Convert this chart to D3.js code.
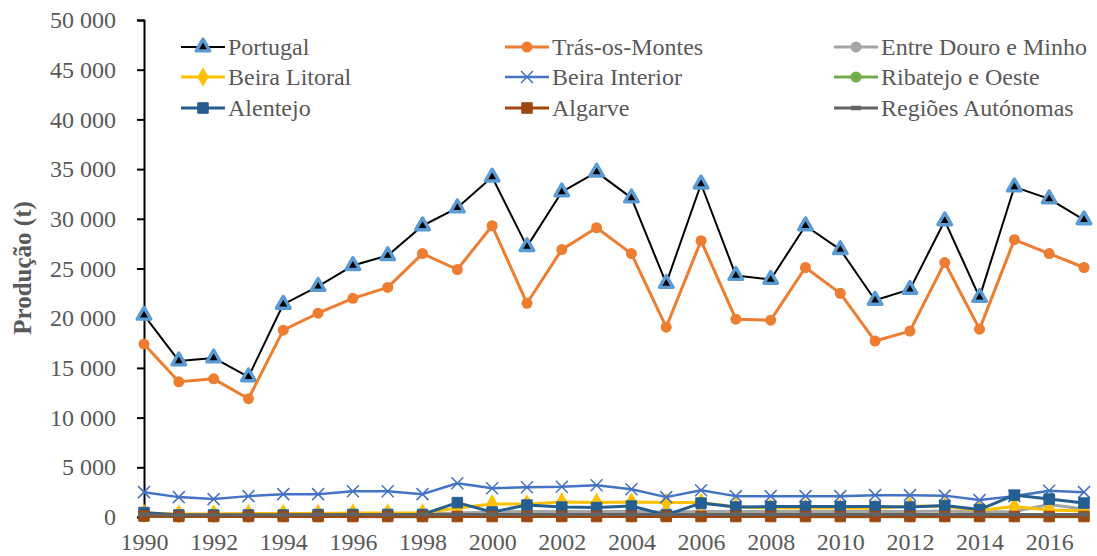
<!DOCTYPE html>
<html>
<head>
<meta charset="utf-8">
<script src="https://cdn.jsdelivr.net/npm/d3@7"></script>
<style>
  body { margin: 0; background: #fff; }
  svg { display: block; font-family: "Liberation Serif", "Times New Roman", serif; }
</style>
</head>
<body>
<svg id="svg-plot" width="1097" height="556"></svg>
<script>
// Chart data
var years = [1990, 1991, 1992, 1993, 1994, 1995, 1996, 1997, 1998, 1999,
             2000, 2001, 2002, 2003, 2004, 2005, 2006, 2007, 2008, 2009,
             2010, 2011, 2012, 2013, 2014, 2015, 2016, 2017];
var yearTicks = [1990, 1992, 1994, 1996, 1998, 2000, 2002, 2004, 2006, 2008, 2010, 2012, 2014, 2016];
var valueTicks = [0, 5000, 10000, 15000, 20000, 25000, 30000, 35000, 40000, 45000, 50000];

var portugal = [20300, 15700, 16000, 14100, 21400, 23200, 25300, 26300, 29300, 31100,
                34200, 27200, 32700, 34700, 32100, 23500, 33500, 24300, 23900, 29300,
                26900, 21800, 22900, 29800, 22100, 33200, 32000, 29900];
var trasOsMontes = [17400, 13600, 13900, 11900, 18800, 20500, 22000, 23100, 26500, 24900,
                    29300, 21500, 26900, 29100, 26500, 19100, 27800, 19900, 19800, 25100,
                    22500, 17700, 18700, 25600, 18900, 27900, 26500, 25100];
var entreDouroMinho = [300, 250, 250, 250, 250, 250, 300, 300, 300, 400,
                       500, 550, 550, 550, 550, 500, 550, 550, 550, 550,
                       550, 550, 550, 600, 500, 550, 1250, 800];
var beiraLitoral = [350, 300, 300, 350, 350, 350, 400, 400, 400, 900,
                    1300, 1300, 1500, 1450, 1500, 1450, 1450, 1000, 900, 900,
                    900, 850, 1100, 1050, 650, 1050, 700, 600];
var beiraInterior = [2500, 2000, 1800, 2100, 2300, 2300, 2600, 2600, 2300, 3400,
                     2900, 3000, 3050, 3200, 2800, 2000, 2700, 2100, 2100, 2100,
                     2100, 2200, 2200, 2150, 1700, 2100, 2650, 2500];
var ribatejoOeste = [50, 50, 50, 50, 50, 50, 50, 30, 30, 50,
                     50, 50, 50, 50, 50, 50, 50, 50, 50, 30,
                     30, 30, 30, 30, 30, 30, 30, 30];
var alentejo = [450, 200, 200, 200, 200, 250, 250, 250, 250, 1450,
                500, 1200, 1000, 950, 1100, 200, 1400, 1000, 1050, 1050,
                1050, 1050, 1000, 1150, 750, 2200, 1800, 1400];
var algarve = [100, 50, 50, 50, 50, 50, 50, 50, 50, 50,
               50, 50, 50, 50, 50, 50, 50, 50, 50, 50,
               50, 50, 50, 50, 50, 50, 50, 50];
var regioesAutonomas = [250, 200, 200, 200, 200, 250, 250, 250, 250, 250,
                        250, 250, 250, 250, 250, 250, 250, 250, 250, 250,
                        250, 250, 250, 250, 250, 250, 250, 250];

// Series styles, in Excel drawing order
var series = [
  { name: 'Portugal', values: portugal, color: '#000000', width: 2, marker: 'triangle' },
  { name: 'Trás-os-Montes', values: trasOsMontes, color: '#ED7D31', width: 3, marker: 'circle' },
  { name: 'Entre Douro e Minho', values: entreDouroMinho, color: '#A5A5A5', width: 3, marker: 'circle' },
  { name: 'Beira Litoral', values: beiraLitoral, color: '#FFC000', width: 3, marker: 'diamond' },
  { name: 'Beira Interior', values: beiraInterior, color: '#4472C4', width: 2.5, marker: 'x' },
  { name: 'Ribatejo e Oeste', values: ribatejoOeste, color: '#70AD47', width: 3, marker: 'circle' },
  { name: 'Alentejo', values: alentejo, color: '#255E91', width: 3, marker: 'square' },
  { name: 'Algarve', values: algarve, color: '#9E480E', width: 3, marker: 'square' },
  { name: 'Regiões Autónomas', values: regioesAutonomas, color: '#636363', width: 3, marker: 'dash' }
];

var legendCols = [181, 505, 834];
var legendRows = [47, 77, 108];
var fontSize = '24px';

var svg = d3.select('#svg-plot');

var xScale = d3.scaleLinear()
               .domain([1990, 2017])
               .range([144, 1084]);

var yScale = d3.scaleLinear()
               .domain([0, 50000])
               .range([517, 20]);

function fmt(v) {
  return d3.format(',')(v).replace(/,/g, ' ');
}

// Axes
var yAxis = d3.axisLeft(yScale)
              .tickValues(valueTicks)
              .tickFormat(fmt)
              .tickSize(7)
              .tickPadding(21);

var gy = svg.append('g')
            .attr('transform', 'translate(144, 0)')
            .call(yAxis);
gy.select('.domain').attr('stroke', '#000').attr('stroke-width', 2);
gy.selectAll('.tick line').attr('stroke', '#000').attr('stroke-width', 2);
gy.selectAll('.tick text')
  .attr('fill', '#595959')
  .style('font-size', fontSize)
  .style('font-family', '"Liberation Serif", serif');

var xAxis = d3.axisBottom(xScale)
              .tickValues(yearTicks)
              .tickFormat(d3.format('d'))
              .tickSize(0)
              .tickPadding(16);

var gx = svg.append('g')
            .attr('transform', 'translate(0, 517)')
            .call(xAxis);
gx.select('.domain').remove();
gx.selectAll('.tick text')
  .attr('fill', '#595959')
  .style('font-size', fontSize)
  .style('font-family', '"Liberation Serif", serif');

// Axis title
svg.append('text')
   .attr('transform', 'translate(31, 268) rotate(-90)')
   .attr('text-anchor', 'middle')
   .attr('fill', '#595959')
   .style('font-size', '25px')
   .style('font-weight', 'bold')
   .text('Produção (t)');

// Marker drawing
function drawMarker(g, s, x, y) {
  var m;
  if (s.marker === 'triangle') {
    m = g.append('path')
         .attr('d', d3.symbol(d3.symbolTriangle, 80)())
         .attr('fill', '#000')
         .attr('stroke', '#5B9BD5')
         .attr('stroke-width', 3.4)
         .attr('stroke-linejoin', 'round');
  } else if (s.marker === 'circle') {
    m = g.append('circle').attr('r', 5.5).attr('fill', s.color);
  } else if (s.marker === 'diamond') {
    m = g.append('path').attr('d', d3.symbol(d3.symbolDiamond, 110)()).attr('fill', s.color);
  } else if (s.marker === 'square') {
    m = g.append('path')
         .attr('d', d3.symbol(d3.symbolSquare, 110)())
         .attr('fill', s.color)
         .attr('stroke', s.color)
         .attr('stroke-width', 1)
         .attr('stroke-linejoin', 'round');
  } else if (s.marker === 'x') {
    m = g.append('path')
         .attr('d', 'M-6,-6L6,6M-6,6L6,-6')
         .attr('fill', 'none')
         .attr('stroke', s.color)
         .attr('stroke-width', 1.5);
  } else {
    m = g.append('path')
         .attr('d', 'M-5,0L5,0')
         .attr('stroke', s.color)
         .attr('stroke-width', 4.5);
  }
  m.attr('transform', 'translate(' + x + ',' + y + ')');
}

// Series
var line = d3.line()
             .x(function(d, i) { return xScale(years[i]); })
             .y(function(d) { return yScale(d); });

series.forEach(function(s) {
  var g = svg.append('g');
  g.append('path')
   .attr('d', line(s.values))
   .attr('fill', 'none')
   .attr('stroke', s.color)
   .attr('stroke-width', s.width)
   .attr('stroke-linejoin', 'round');
  s.values.forEach(function(v, i) {
    drawMarker(g, s, xScale(years[i]), yScale(v));
  });
});

// Legend
series.forEach(function(s, i) {
  var x0 = legendCols[i % 3];
  var y0 = legendRows[Math.floor(i / 3)];
  var g = svg.append('g');
  g.append('line')
   .attr('x1', x0).attr('x2', x0 + 44)
   .attr('y1', y0).attr('y2', y0)
   .attr('stroke', s.color)
   .attr('stroke-width', s.width);
  drawMarker(g, s, x0 + 22, y0);
  g.append('text')
   .attr('x', x0 + 47)
   .attr('y', y0)
   .attr('dy', '0.35em')
   .attr('fill', '#595959')
   .style('font-size', fontSize)
   .text(s.name);
});
</script>
</body>
</html>
